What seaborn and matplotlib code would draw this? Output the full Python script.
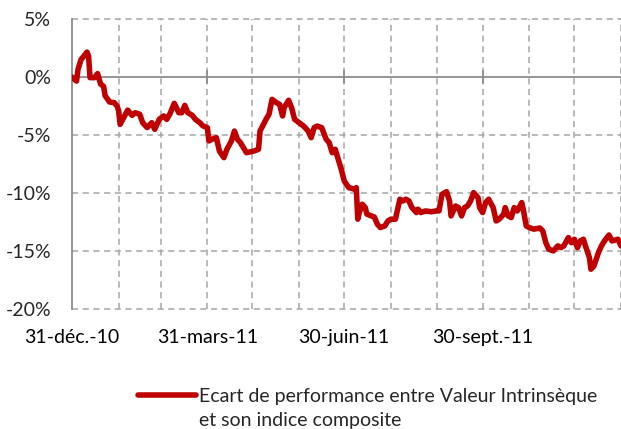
import pandas as pd
import matplotlib.pyplot as plt
import seaborn as sns

# jours depuis le 31-déc.-10 et écart de performance (%)
days = [0, 3, 4, 6, 10, 11, 12, 15, 17, 19, 21, 22, 25, 28, 30, 31, 32, 35, 37, 40,
        42, 45, 47, 50, 53, 55, 58, 61, 63, 65, 68, 71, 73, 75, 77, 80, 82, 85, 87, 90,
        91, 93, 96, 98, 101, 103, 106, 108, 110, 112, 116, 121, 124, 125, 129, 131, 133, 136, 138, 140,
        141, 144, 146, 148, 151, 154, 157, 159, 161, 163, 166, 169, 171, 173, 175, 178, 179, 181, 184, 188,
        189, 190, 191, 193, 195, 196, 199, 201, 203, 205, 208, 210, 212, 215, 218, 220, 222, 224, 226, 229,
        230, 232, 235, 239, 242, 244, 246, 249, 251, 252, 255, 257, 259, 261, 263, 265, 267, 270, 271, 273,
        275, 277, 280, 282, 284, 287, 288, 290, 292, 294, 296, 299, 300, 302, 304, 307, 311, 313, 315, 317,
        320, 323, 325, 327, 330, 332, 334, 336, 338, 340, 341, 344, 345, 347, 350, 352, 354, 357, 359, 363,
        365]
ecart = [0.0, -0.35, 0.66, 1.5, 2.15, 1.8, -0.05, -0.05, 0.3, -0.6, -0.8, -1.6, -2.15, -2.2, -2.5, -2.9, -4.07, -3.35, -2.85, -3.3,
         -3.07, -3.2, -3.93, -4.35, -3.93, -4.5, -3.64, -3.35, -3.64, -3.2, -2.26, -3.07, -3.07, -2.44, -3.07, -3.3, -3.64, -3.93, -4.2, -4.36,
         -5.5, -5.36, -5.22, -6.37, -6.94, -6.22, -5.5, -4.65, -5.36, -5.65, -6.51, -6.37, -6.22, -4.65, -3.64, -3.2, -1.92, -2.21, -2.35, -3.35,
         -2.64, -2.0, -2.64, -3.64, -3.93, -4.22, -4.65, -5.22, -4.36, -4.22, -4.36, -5.36, -5.65, -6.51, -6.22, -7.51, -7.94, -8.95, -9.52, -9.66,
         -9.52, -12.24, -11.67, -10.95, -11.24, -11.8, -11.96, -12.05, -12.67, -12.96, -12.82, -12.39, -12.24, -12.24, -10.52, -10.67, -10.52, -10.67, -11.24, -11.67,
         -11.38, -11.67, -11.53, -11.6, -11.53, -11.53, -10.1, -9.87, -10.67, -11.96, -11.1, -11.24, -11.96, -11.24, -11.1, -10.67, -9.95, -10.4, -11.24, -11.67,
         -10.81, -10.52, -11.24, -12.39, -12.24, -11.81, -11.24, -11.96, -12.1, -11.24, -11.53, -10.81, -11.38, -12.82, -12.96, -13.1, -13.0, -13.25, -14.26, -14.83,
         -14.97, -14.54, -14.69, -14.54, -13.82, -14.26, -13.97, -14.69, -14.11, -13.97, -14.4, -15.55, -16.55, -16.27, -15.12, -14.54, -14.11, -13.6, -14.11, -13.97,
         -14.54]

start = pd.Timestamp("2010-12-31")
dates = start + pd.to_timedelta(days, unit="D")
df = pd.DataFrame({"date": dates, "ecart": ecart})

tick_dates = pd.to_datetime(["2010-12-31", "2011-03-31", "2011-06-30", "2011-09-30"])
tick_labels = ["31-déc.-10", "31-mars-11", "30-juin-11", "30-sept.-11"]
grid_dates = pd.date_range("2011-01-31", "2011-12-31", freq="ME")
y_ticks = [5, 0, -5, -10, -15, -20]

label_l1 = "Ecart de performance entre Valeur Intrinsèque"
label_l2 = "et son indice composite"
red = "#C00000"
grey = "#A6A6A6"

sns.set_style("white")
plt.rcParams["font.family"] = ["Lato", "DejaVu Sans"]

fig = plt.figure(figsize=(6.21, 4.29), dpi=100)
ax = fig.add_axes([72 / 621, 1 - 309.3 / 429, 1 - 72 / 621, (309.3 - 19) / 429])

for d in grid_dates:
    ax.axvline(d, color=grey, lw=1.1, ls=(0, (4, 3)), zorder=1)
for v in y_ticks:
    if v != 0:
        ax.axhline(v, color=grey, lw=1.1, ls=(0, (4, 3)), zorder=1, clip_on=False)
ax.axhline(0, color="#8C8C8C", lw=1.3, zorder=2)
# petites marques sur l'axe des abscisses (à 0%)
for d in tick_dates[1:]:
    ax.plot([d, d], [-0.5, 0.5], color="#8C8C8C", lw=1.3, zorder=2)

sns.lineplot(data=df, x="date", y="ecart", ax=ax, color=red, linewidth=4.0,
             label=label_l1, zorder=3)

ax.set_xlim(start, pd.Timestamp("2011-12-31"))
ax.set_ylim(-20, 5)
ax.set_yticks(y_ticks)
ax.set_yticklabels([f"{v}%" for v in y_ticks])
ax.set_xticks(tick_dates)
ax.set_xticklabels(tick_labels)
ax.tick_params(axis="x", length=0, pad=14, labelsize=14, colors="black")
ax.tick_params(axis="y", direction="inout", length=12, width=1.3, color="#8C8C8C",
               labelsize=14, pad=9)
ax.set_xlabel("")
ax.set_ylabel("")

for s in ["top", "right", "bottom"]:
    ax.spines[s].set_visible(False)
ax.spines["left"].set_color("#8C8C8C")
ax.spines["left"].set_linewidth(1.3)

leg = ax.legend(loc="upper left", bbox_to_anchor=(138 / 621, 1 - 388 / 429),
                bbox_transform=fig.transFigure, frameon=False, fontsize=14,
                handlelength=3.0, handletextpad=0.15, borderaxespad=0, borderpad=0)

# deuxième ligne de la légende, alignée sous la première
fig.canvas.draw()
bb = leg.get_texts()[0].get_window_extent()
fig.text(bb.x0 / 621, (bb.y0 - 24) / 429, label_l2, fontsize=14, ha="left", va="bottom")

fig.savefig("out.png", dpi=100)
